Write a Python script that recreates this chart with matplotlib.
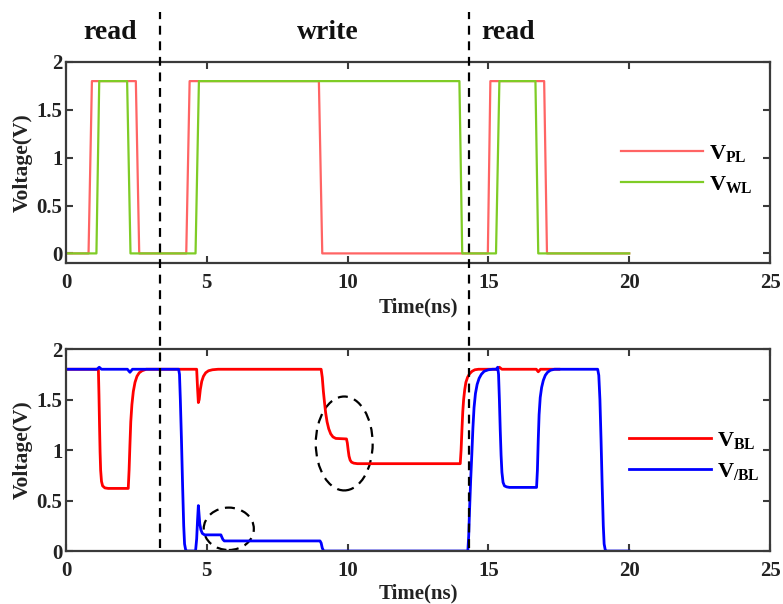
import matplotlib
matplotlib.use("Agg")
import matplotlib.pyplot as plt
import matplotlib.transforms as mtransforms
from matplotlib.lines import Line2D
from matplotlib.patches import Ellipse

plt.rcParams["font.family"] = ["Liberation Serif", "DejaVu Serif"]
plt.rcParams["font.weight"] = "bold"
plt.rcParams["mathtext.fontset"] = "custom"
plt.rcParams["mathtext.rm"] = "Liberation Serif:bold"
plt.rcParams["mathtext.bf"] = "Liberation Serif:bold"
plt.rcParams["mathtext.it"] = "Liberation Serif:bold"

# ---- control signals (ns, V) ----
t_pl = [0, 0.80, 0.92, 2.48, 2.60, 4.27, 4.39, 8.98, 9.10, 14.98, 15.07, 16.98, 17.08, 20]
v_pl = [0, 0, 1.8, 1.8, 0, 0, 1.8, 1.8, 0, 0, 1.8, 1.8, 0, 0]
t_wl = [0, 1.08, 1.18, 2.17, 2.29, 4.60, 4.72, 13.97, 14.07, 15.27, 15.39, 16.67, 16.77, 20]
v_wl = [0, 0, 1.8, 1.8, 0, 0, 1.8, 1.8, 0, 0, 1.8, 1.8, 0, 0]

# ---- bit line BL (ns, V) ----
t_bl = [0, 1.15, 1.17, 1.19, 1.21, 1.23, 1.26, 1.30, 1.38, 1.50,
        2.21, 2.24, 2.27, 2.30, 2.34, 2.39, 2.45, 2.52, 2.60, 2.70, 2.85,
        4.64, 4.67, 4.70, 4.73, 4.77, 4.82, 4.88, 4.96, 5.06, 5.20, 5.40,
        9.06, 9.10, 9.14, 9.18, 9.22, 9.27, 9.33, 9.40, 9.48, 9.58,
        9.96, 9.99, 10.02, 10.05, 10.09, 10.14, 10.22, 10.35,
        14.00, 14.03, 14.06, 14.09, 14.12, 14.16, 14.20, 14.26, 14.33, 14.42, 14.52, 14.65,
        15.30, 15.39, 15.48, 16.70, 16.77, 16.85, 17.50]
v_bl = [1.80, 1.80, 1.55, 1.25, 0.98, 0.80, 0.69, 0.645, 0.625, 0.62,
        0.62, 0.80, 1.05, 1.28, 1.45, 1.58, 1.67, 1.73, 1.765, 1.785, 1.80,
        1.80, 1.62, 1.47, 1.50, 1.60, 1.68, 1.73, 1.765, 1.785, 1.795, 1.80,
        1.80, 1.72, 1.58, 1.47, 1.37, 1.28, 1.21, 1.16, 1.13, 1.115,
        1.11, 1.07, 1.00, 0.94, 0.90, 0.88, 0.87, 0.865,
        0.865, 1.00, 1.20, 1.38, 1.50, 1.60, 1.67, 1.72, 1.755, 1.78, 1.795, 1.80,
        1.80, 1.82, 1.80, 1.80, 1.775, 1.80, 1.80]

# ---- complementary bit line /BL (ns, V) ----
t_blb = [0, 1.10, 1.18, 1.26, 2.18, 2.27, 2.36,
         4.00, 4.03, 4.06, 4.10, 4.14, 4.18, 4.21, 4.25, 4.30,
         4.60, 4.64, 4.67, 4.70, 4.72, 4.75, 4.79, 4.84, 4.92,
         5.50, 5.53, 5.57, 5.62,
         9.02, 9.06, 9.10, 9.15,
         14.27, 14.30, 14.33, 14.37, 14.41, 14.45, 14.49, 14.54, 14.60, 14.67, 14.75, 14.85, 15.00, 15.15,
         15.28, 15.33, 15.36, 15.39, 15.42, 15.45, 15.48, 15.52, 15.57, 15.65, 15.75,
         16.71, 16.74, 16.77, 16.80, 16.84, 16.89, 16.95, 17.02, 17.10, 17.20, 17.35,
         18.88, 18.92, 18.96, 19.00, 19.04, 19.08, 19.11, 19.15, 19.20, 20]
v_blb = [1.80, 1.80, 1.82, 1.80, 1.80, 1.77, 1.80,
         1.80, 1.75, 1.50, 1.10, 0.65, 0.25, 0.07, 0.01, 0.0,
         0.0, 0.12, 0.30, 0.45, 0.38, 0.27, 0.21, 0.175, 0.16,
         0.16, 0.14, 0.115, 0.10,
         0.10, 0.08, 0.03, 0.0,
         0.0, 0.15, 0.40, 0.70, 0.95, 1.22, 1.42, 1.56, 1.65, 1.71, 1.75, 1.78, 1.795, 1.80,
         1.80, 1.82, 1.75, 1.50, 1.20, 0.95, 0.78, 0.68, 0.645, 0.635, 0.63,
         0.63, 0.80, 1.10, 1.35, 1.52, 1.62, 1.69, 1.74, 1.77, 1.79, 1.80,
         1.80, 1.74, 1.50, 1.10, 0.65, 0.25, 0.07, 0.01, 0.0, 0.0]

phase_names = ["read", "write", "read"]
phase_label_x = [1.56, 9.3, 15.7]
phase_bounds = [3.33, 14.3]

x_ticks = [0, 5, 10, 15, 20, 25]
y_ticks = [0, 0.5, 1, 1.5, 2]
y_tick_labels = ["0", "0.5", "1", "1.5", "2"]

c_pl, c_wl = "#ff6464", "#7fcc26"
c_bl, c_blb = "#ff0000", "#0000ff"
spine_c = "#3a3a3a"
text_c = "#222222"

fig = plt.figure(figsize=(7.83, 6.04), dpi=100)
ax1 = fig.add_axes([0.0843, 0.5646, 0.8991, 0.3328])
ax2 = fig.add_axes([0.0843, 0.0877, 0.8991, 0.3344])

ax1.plot(t_pl, v_pl, color=c_pl, lw=1.6, label=r"$\mathbf{V_{PL}}$")
ax1.plot(t_wl, v_wl, color=c_wl, lw=1.6, label=r"$\mathbf{V_{WL}}$")
ax1.set_ylim(-0.1, 2)

ax2.plot(t_bl, v_bl, color=c_bl, lw=2.0, label=r"$\mathbf{V_{BL}}$")
ax2.plot(t_blb, v_blb, color=c_blb, lw=2.0, label=r"$\mathbf{V_{/BL}}$")
ax2.set_ylim(0, 2)

for ax, xlab_y in ((ax1, -0.174), (ax2, -0.163)):
    ax.set_xlim(0, 25)
    ax.set_xticks(x_ticks)
    ax.set_xticklabels([str(v) for v in x_ticks])
    ax.set_yticks(y_ticks)
    ax.set_yticklabels(y_tick_labels)
    ax.tick_params(direction="in", length=5, width=1.5, color=spine_c,
                   top=True, right=True, labelsize=15, labelcolor=text_c)
    ax.tick_params(axis="x", pad=7)
    ax.tick_params(axis="y", pad=2.5)
    for s in ax.spines.values():
        s.set_linewidth(1.6)
        s.set_color(spine_c)
    ax.set_xlabel("Time(ns)", fontsize=15, fontweight="bold", color=text_c)
    ax.set_ylabel("Voltage(V)", fontsize=15.5, fontweight="bold", color=text_c)
    ax.xaxis.set_label_coords(0.5, xlab_y)
    ax.yaxis.set_label_coords(-0.047, 0.5)
    for lab in ax.get_xticklabels() + ax.get_yticklabels():
        lab.set_fontweight("bold")

ax1.legend(loc="center left", bbox_to_anchor=(0.788, 0.47), frameon=False,
           fontsize=16, handlelength=3.7, handletextpad=0.25,
           labelspacing=0.45, borderpad=0, borderaxespad=0)
ax2.legend(loc="center left", bbox_to_anchor=(0.800, 0.47), frameon=False,
           fontsize=16, handlelength=3.7, handletextpad=0.25,
           labelspacing=0.45, borderpad=0, borderaxespad=0)

# annotations on the bit-line transients
for (cx, cy, w, h) in [(5.78, 0.22, 1.78, 0.42), (9.88, 1.065, 2.02, 0.93)]:
    ax2.add_patch(Ellipse((cx, cy), w, h, fill=False, ec="black", lw=1.6,
                          ls=(0, (4.5, 3))))

# phase separators spanning both panels
blend = mtransforms.blended_transform_factory(ax1.transData, fig.transFigure)
for xb in phase_bounds:
    fig.add_artist(Line2D([xb, xb], [0.093, 0.98], transform=blend, color="black",
                          lw=1.6, ls=(0, (4, 3)), clip_on=False))
for name, xl in zip(phase_names, phase_label_x):
    fig.text(xl, 0.947, name, transform=blend, ha="center", va="center",
             fontsize=20, fontweight="bold", color="#111111")

fig.savefig("out.png", dpi=100)
